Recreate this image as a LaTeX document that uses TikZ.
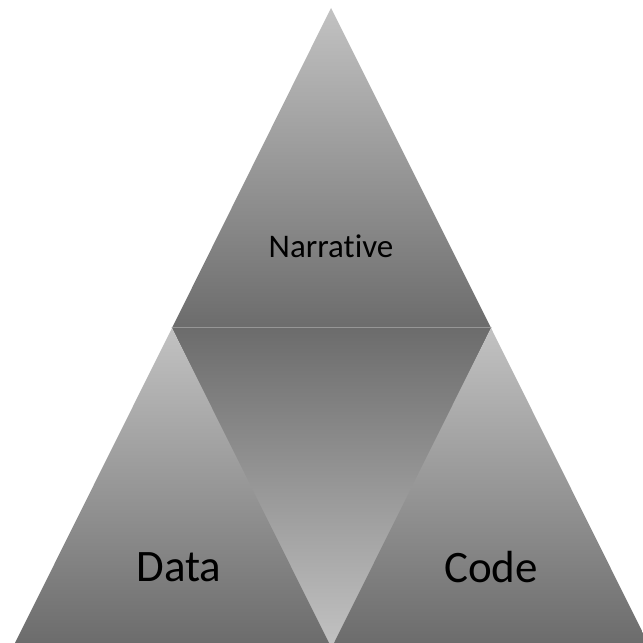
\documentclass[tikz,border=0pt]{standalone}
\usepackage{fontspec}
\setmainfont{Carlito}[Ligatures=NoCommon]
\definecolor{Lt}{RGB}{194, 194, 194}
\definecolor{Dk}{RGB}{108, 108, 108}
\definecolor{Ln}{RGB}{150, 150, 150}

\begin{document}
\begin{tikzpicture}[line cap=round, line join=round, x=1pt, y=1pt]
  \useasboundingbox (0,0) rectangle (643,643);
  \clip (0,0) rectangle (643,643);
  \tikzset{up/.style={top color=Lt, bottom color=Dk},
           down/.style={top color=Dk, bottom color=Lt},
           lbl/.style={anchor=base, text=black, inner sep=0pt}}

  % Corners
  \coordinate (apex) at (331,635);
  \coordinate (bl) at (172,315);
  \coordinate (br) at (491,315);

  % Middle (upside down) triangle, a bit wider at the foot so no seam shows
  \shade[down] (bl) -- (br) -- (336,-3) -- (327,-3) -- cycle;

  % Bottom triangles
  \shade[up] (bl) -- (15,0) -- (329,0) -- cycle;
  \shade[up] (br) -- (334,0) -- (648,0) -- cycle;

  % Top triangle
  \shade[up] (apex) -- (bl) -- (br) -- cycle;
  \draw[Ln, line width=1pt] (bl) -- (br);

  \node[lbl, font=\fontsize{33}{40}\selectfont] (narr) at (331,385) {Narrative};
  \node[lbl, font=\fontsize{45}{54}\selectfont] (data) at (179,61) {Data};
  \node[lbl, font=\fontsize{45}{54}\selectfont] (code) at (491,60) {Code};

\end{tikzpicture}
\end{document}
